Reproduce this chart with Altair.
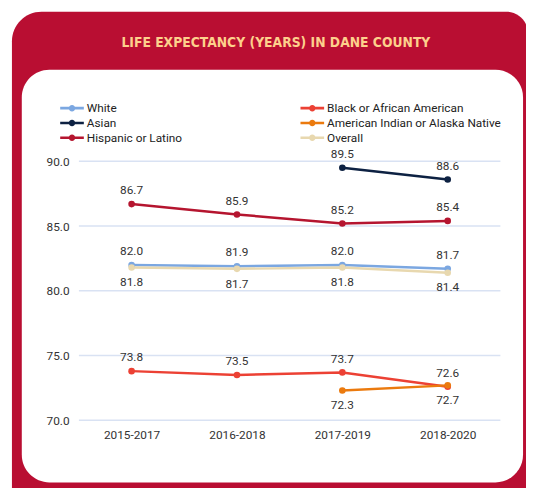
import altair as alt
import pandas as pd

periods = ["2015-2017", "2016-2018", "2017-2019", "2018-2020"]
series_names = ["White", "Black or African American", "Asian",
                "American Indian or Alaska Native", "Hispanic or Latino", "Overall"]
white = [82.0, 81.9, 82.0, 81.7]
black = [73.8, 73.5, 73.7, 72.6]
asian = [None, None, 89.5, 88.6]
aian = [None, None, 72.3, 72.7]
hispanic = [86.7, 85.9, 85.2, 85.4]
overall = [81.8, 81.7, 81.8, 81.4]
colors = ["#7BA7E1", "#EC4134", "#0D2142", "#EB7A0E", "#B5152F", "#E8D8AF"]
below_series = ["American Indian or Alaska Native", "Overall"]
y_ticks = [70, 75, 80, 85, 90]
title_text = "LIFE EXPECTANCY (YEARS) IN DANE COUNTY"

RED = "#B90E32"

rows = []
for name, vals in zip(series_names, [white, black, asian, aian, hispanic, overall]):
    for p, v in zip(periods, vals):
        if v is not None:
            rows.append({"period": p, "series": name, "value": v,
                         "pos": "below" if name in below_series else "above"})
df = pd.DataFrame(rows)
one = pd.DataFrame({"k": [0]})
grid_df = pd.DataFrame({"value": y_ticks})

W, H = 428, 263

red_panel = alt.Chart(one).mark_rect(
    color=RED, cornerRadiusTopLeft=30, cornerRadiusTopRight=22
).encode(x=alt.value(-68), x2=alt.value(456), y=alt.value(-152), y2=alt.value(345))

white_panel = alt.Chart(one).mark_rect(
    color="white", cornerRadius=28
).encode(x=alt.value(-58), x2=alt.value(451), y=alt.value(-93), y2=alt.value(326))

title = alt.Chart(one).mark_text(
    text=title_text, font="DejaVu Sans Condensed, sans-serif",
    fontWeight="bold", fontSize=14, color="#FDD08C", align="center", baseline="middle"
).encode(x=alt.value(200), y=alt.value(-120))

x_enc = alt.X("period:N", sort=periods,
              scale=alt.Scale(type="point", padding=0.5),
              axis=alt.Axis(title=None, labelAngle=0, ticks=False, domain=False,
                            labelPadding=9, grid=False, zindex=1))
y_scale = alt.Scale(domain=[70, 90], nice=False, zero=False)
y_axis = alt.Axis(title=None, values=y_ticks, format=".1f",
                  ticks=False, domain=False, labelPadding=10,
                  grid=False, zindex=1)
y_enc = alt.Y("value:Q", scale=y_scale, axis=y_axis)

grid = alt.Chart(grid_df).mark_rule(color="#D9E2F3", strokeWidth=1.5).encode(
    y=alt.Y("value:Q", scale=y_scale, axis=y_axis),
    x=alt.value(0), x2=alt.value(W),
)

fill_scale = alt.Scale(domain=series_names, range=colors)
# same mapping, listed in reverse so the line scale does not merge with the legend one
stroke_scale = alt.Scale(domain=series_names[::-1], range=colors[::-1])

SYMBOL = ("M-2,-0.22H2V0.22H-2Z "
          "M-0.55,0A0.55,0.55 0 1,1 0.55,0A0.55,0.55 0 1,1 -0.55,0Z")

legend = alt.Legend(
    orient="none", legendX=-13, legendY=-60, columns=2, direction="horizontal",
    title=None, symbolType=SYMBOL, symbolSize=144, symbolStrokeWidth=0,
    symbolOpacity=1, labelFont="Roboto", labelFontSize=12, labelColor="#222",
    labelOffset=9, labelLimit=300, rowPadding=3, columnPadding=120, zindex=1,
)

lines = alt.Chart(df).mark_line(strokeWidth=2.5).encode(
    x=x_enc, y=y_enc,
    stroke=alt.Stroke("series:N", scale=stroke_scale, legend=None),
)

points = alt.Chart(df).mark_circle(size=45, opacity=1).encode(
    x=x_enc, y=y_enc,
    fill=alt.Fill("series:N", scale=fill_scale, legend=legend),
)

labels_above = alt.Chart(df).transform_filter(alt.datum.pos == "above").mark_text(
    dy=-14, font="Roboto", fontSize=12, color="#333"
).encode(x=x_enc, y=y_enc, text=alt.Text("value:Q", format=".1f"))

labels_below = alt.Chart(df).transform_filter(alt.datum.pos == "below").mark_text(
    dy=15, font="Roboto", fontSize=12, color="#333"
).encode(x=x_enc, y=y_enc, text=alt.Text("value:Q", format=".1f"))

chart = alt.layer(
    red_panel, white_panel, title, grid, lines, points, labels_above, labels_below
).properties(
    width=W, height=H,
    padding={"left": 72, "top": 152, "right": 26, "bottom": 65},
    autosize=alt.AutoSizeParams(type="none"),
    background="white",
).configure_view(stroke=None).configure_axis(
    labelFont="Roboto", labelFontSize=12, labelColor="#333"
)

chart.save("out.html", embed_options={"renderer": "svg", "actions": False})
